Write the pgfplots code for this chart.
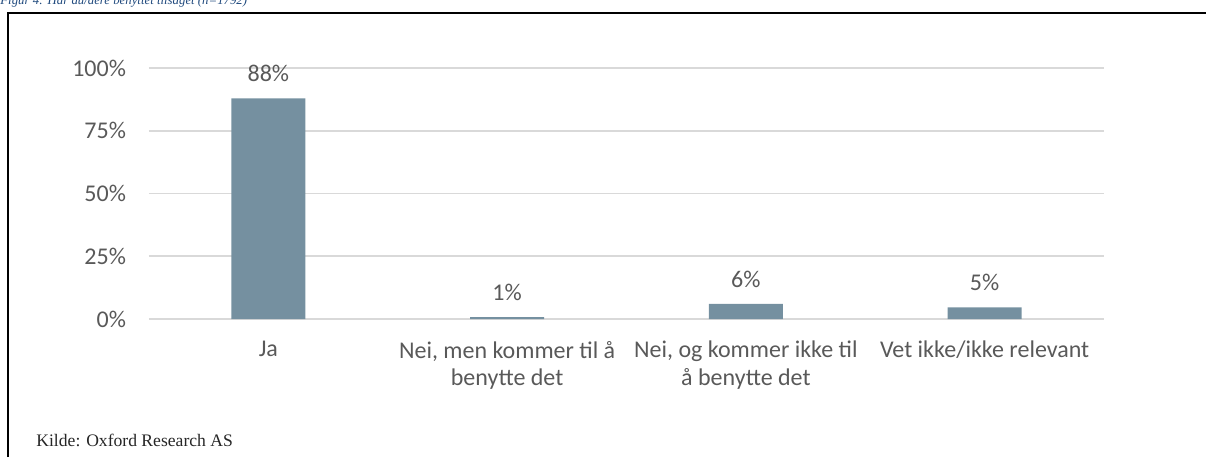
\documentclass[border=0pt]{standalone}
\usepackage{pgfplots}
\pgfplotsset{compat=1.18}
\usepackage{fontspec}
\setmainfont{Carlito}
\newfontfamily\kildefont{Liberation Serif}

\definecolor{barcol}{RGB}{117,144,160}
\definecolor{gridcol}{RGB}{217,217,217}
\definecolor{txtcol}{RGB}{89,89,89}
\definecolor{titlecol}{RGB}{31,73,125}

\begin{document}
\begin{tikzpicture}
% pixel grid of the reference: 1 px = 0.5pt, y downwards
\begin{scope}[x=0.5pt,y=-0.5pt]
\useasboundingbox (0,0) rectangle (1206,457);
% caption is cut at the top edge in the reference as well
\node[anchor=base west, inner sep=0, text=titlecol,
      font=\kildefont\itshape\fontsize{6.4}{8}\selectfont] at (0,4)
      {Figur 4: Har du/dere benyttet tilsaget (n=1792)};
\draw[line width=0.75pt] (8,457) -- (8,13) -- (1206,13);
\node[anchor=base west, inner sep=0, text=black!85,
      font=\kildefont\fontsize{8.8}{11}\selectfont] at (36,446)
      {Kilde: Oxford Research AS};
\end{scope}

\begin{axis}[
    at={(74.5pt,-159.5pt)}, anchor=south west,
    scale only axis,
    width=477.5pt, height=125.5pt,
    xmin=-0.5, xmax=3.5,
    ymin=0, ymax=100,
    enlargelimits=false,
    axis line style={draw=none},
    major tick length=0pt,
    ytick={0,25,50,75,100},
    yticklabel={\pgfmathprintnumber{\tick}\%},
    /pgf/number format/assume math mode=true,
    yticklabel style={text=txtcol, font=\fontsize{12}{14}\selectfont, xshift=-8pt},
    ymajorgrids=true,
    grid style={gridcol, line width=0.9pt},
    xtick={0,1,2,3},
    xticklabels={Ja, {Nei, men kommer til å\\benytte det}, {Nei, og kommer ikke til\\å benytte det}, {Vet ikke/ikke relevant}},
    xticklabel style={align=center, text=txtcol, font=\fontsize{12}{13.8}\selectfont, anchor=north, yshift=-7.5pt},
    ybar,
    bar width=37pt,
    nodes near coords={\pgfmathprintnumber[fixed,precision=0]{\pgfplotspointmeta}\%},
    every node near coord/.append style={anchor=center, yshift=12.5pt, text=txtcol, font=\fontsize{12}{14}\selectfont},
]
\addplot[fill=barcol, draw=none] coordinates {
    (0, 87.9)
    (1, 0.8)
    (2, 6.0)
    (3, 4.6)
};
\end{axis}
\end{tikzpicture}
\end{document}
